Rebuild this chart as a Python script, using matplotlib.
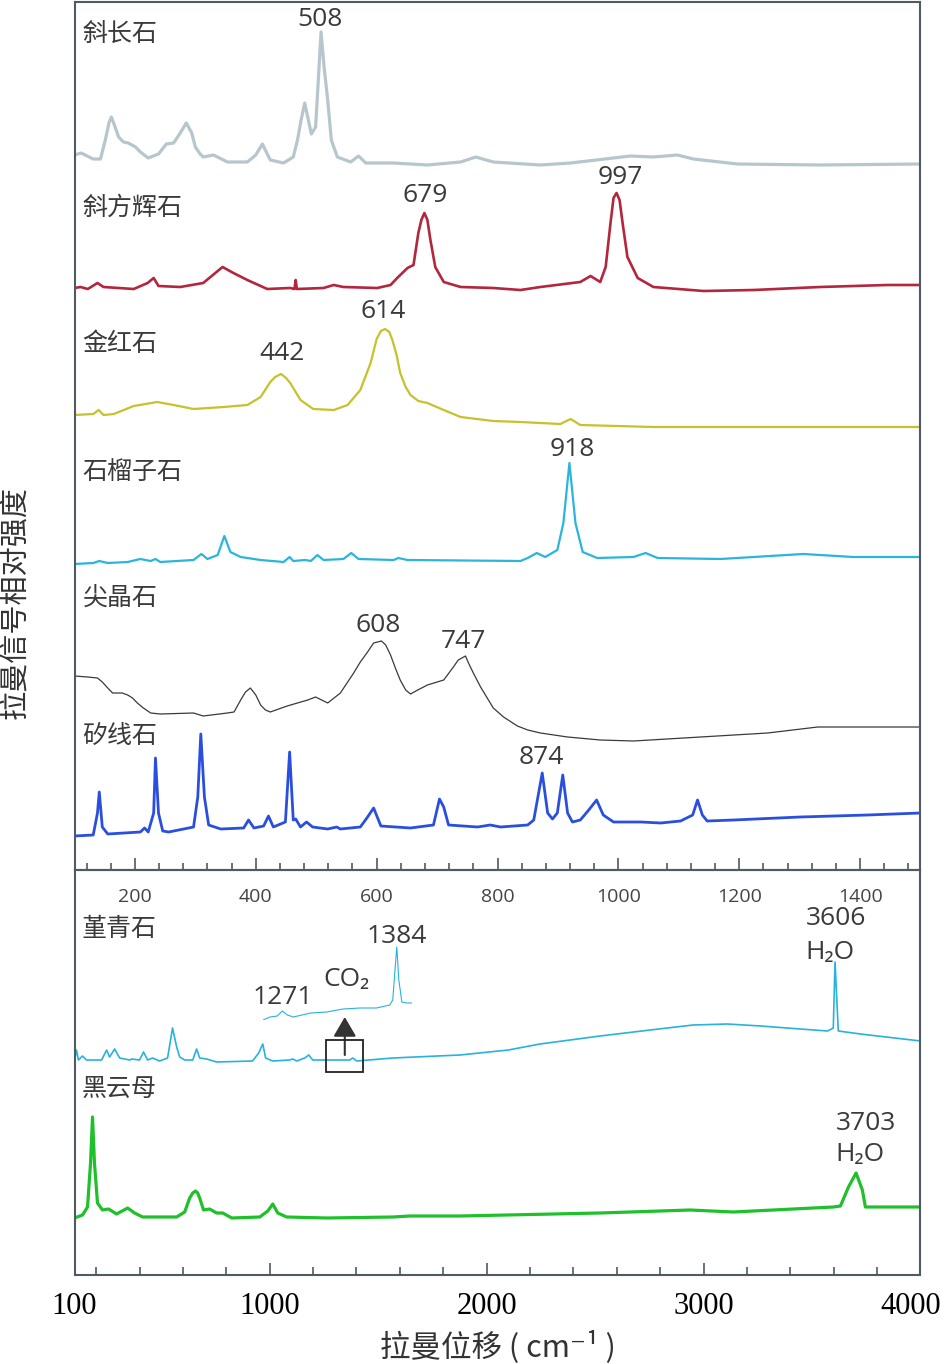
import matplotlib
matplotlib.use('Agg')
import matplotlib.pyplot as plt
from matplotlib.patches import Rectangle
from matplotlib.ticker import FixedLocator, FixedFormatter

# ---------------- data (wavenumber cm-1, relative intensity) ----------------
# top panel minerals
top_names = ['斜长石', '斜方辉石', '金红石', '石榴子石', '尖晶石', '矽线石']
top_offsets = [705, 580, 443, 308, 130, 34]
top_colors = ['#b7c6cd', '#b3263e', '#c5c22c', '#2bb5dc', '#3a3a3a', '#2a4fe0']
top_widths = [2.3, 1.9, 1.6, 1.6, 0.9, 2.0]
top_name_y = [836, 662, 526, 398, 272, 134]

plag_x = [100, 111, 131, 143, 151, 157, 161, 166, 173, 181, 189, 201, 209, 222, 239, 252, 264, 275, 285, 294,
          300, 308, 313, 330, 353, 386, 400, 411, 419, 424, 446, 462, 469, 475, 481, 487, 492, 499, 503, 508,
          513, 519, 525, 535, 557, 570, 582, 628, 684, 739, 764, 793, 871, 921, 1020, 1058, 1098, 1124, 1197,
          1334, 1500]
plag_y = [10, 12, 6, 6, 25, 42, 48, 40, 28, 23, 22, 18, 13, 7, 11, 21, 22, 32, 42, 32,
          18, 11, 8, 10, 3, 3, 10, 21, 11, 5, 2, 8, 25, 45, 62, 45, 31, 38, 80, 133,
          98, 65, 25, 8, 3, 9, 2, 2, 0, 3, 8, 3, 0, 2, 9, 8, 10, 6, 1,
          0, 1]

opx_x = [100, 110, 122, 138, 148, 198, 221, 231, 239, 275, 313, 333, 345, 363, 386, 419, 457, 464, 466, 468,
         512, 529, 545, 601, 623, 634, 651, 661, 669, 674, 679, 684, 689, 697, 711, 739, 793, 838, 871, 937,
         954, 970, 979, 987, 992, 997, 1002, 1007, 1015, 1032, 1058, 1141, 1224, 1334, 1445, 1500]
opx_y = [2, 3, 1, 7, 3, 1, 7, 12, 4, 3, 7, 17, 23, 17, 10, 1, 2, 1, 10, 1,
         2, 5, 3, 2, 5, 12, 22, 25, 57, 70, 77, 70, 50, 23, 8, 3, 2, 0, 3, 8,
         14, 8, 23, 67, 92, 97, 90, 67, 33, 12, 3, -1, 0, 3, 5, 5]

rt_x = [100, 131, 140, 148, 165, 198, 237, 264, 297, 347, 386, 408, 424, 432, 442, 450, 457, 466, 474, 495,
        529, 552, 573, 590, 600, 607, 614, 621, 626, 633, 639, 648, 656, 669, 684, 711, 739, 793, 838, 904,
        921, 937, 1058, 1500]
rt_y = [12, 13, 17, 12, 13, 21, 25, 22, 18, 20, 22, 30, 45, 50, 53, 49, 44, 35, 27, 18,
        17, 22, 37, 64, 88, 96, 98, 95, 87, 72, 54, 40, 32, 26, 24, 17, 10, 6, 5, 3,
        8, 2, 0, 0]

grt_x = [100, 131, 141, 155, 188, 209, 226, 234, 242, 297, 310, 320, 337, 348, 358, 375, 408, 446, 456, 462,
         482, 491, 502, 512, 545, 558, 570, 628, 636, 651, 838, 850, 865, 879, 899, 909, 919, 929, 941, 965,
         1025, 1045, 1065, 1169, 1306, 1389, 1500]
grt_y = [-2, -1, 1, -1, 0, 3, 1, 3, 0, 2, 8, 3, 7, 26, 10, 5, 2, 0, 5, 1,
         2, 1, 7, 2, 3, 9, 3, 2, 4, 2, 1, 4, 9, 5, 12, 39, 99, 39, 10, 4,
         5, 9, 4, 3, 8, 5, 5]

spl_x = [100, 122, 138, 146, 155, 163, 179, 188, 196, 204, 214, 226, 242, 297, 313, 353, 364, 375, 383, 391,
         400, 408, 416, 424, 452, 486, 499, 519, 540, 562, 573, 585, 595, 608, 615, 623, 631, 639, 648, 656,
         668, 684, 711, 727, 735, 747, 752, 760, 772, 783, 793, 810, 833, 850, 871, 916, 970, 1025, 1136, 1247,
         1330, 1412, 1500]
spl_y = [64, 63, 62, 58, 52, 47, 47, 45, 42, 37, 32, 27, 26, 27, 24, 27, 28, 40, 48, 52,
         45, 35, 30, 28, 34, 40, 43, 37, 47, 67, 78, 88, 97, 99, 95, 85, 72, 60, 50, 46,
         50, 55, 60, 73, 80, 84, 77, 67, 53, 42, 32, 23, 14, 10, 7, 3, 0, -1, 3, 7,
         13, 13, 13]

sil_x = [100, 131, 138, 141, 146, 155, 209, 216, 222, 231, 234, 239, 246, 256, 297, 304, 309, 315, 322, 342,
         380, 388, 397, 413, 421, 429, 449, 456, 462, 466, 474, 484, 494, 519, 534, 540, 573, 585, 595, 607,
         656, 694, 704, 711, 719, 767, 788, 805, 850, 860, 874, 883, 891, 899, 908, 916, 924, 937, 951, 964,
         975, 992, 1037, 1070, 1103, 1123, 1131, 1139, 1147, 1191, 1301, 1412, 1500]
sil_y = [0, 1, 23, 44, 9, 2, 4, 8, 4, 23, 78, 23, 5, 4, 9, 39, 102, 39, 11, 7,
         8, 16, 8, 10, 20, 9, 14, 84, 16, 17, 9, 14, 9, 7, 9, 7, 9, 19, 28, 10,
         8, 11, 37, 29, 11, 9, 11, 9, 11, 16, 63, 23, 17, 23, 61, 23, 14, 16, 26, 36,
         21, 14, 14, 13, 15, 21, 36, 21, 15, 16, 19, 21, 23]

top_x = [plag_x, opx_x, rt_x, grt_x, spl_x, sil_x]
top_y = [plag_y, opx_y, rt_y, grt_y, spl_y, sil_y]

# peak labels of the top panel (text, x, y)
top_peak_text = ['508', '679', '997', '442', '614', '918', '608', '747', '874']
top_peak_x = [507, 681, 1004, 443, 611, 924, 603, 744, 873]
top_peak_y = [850, 674, 692, 516, 558, 420, 244, 229, 112]

top_ticks = [200, 400, 600, 800, 1000, 1200, 1400]

# bottom panel minerals
bot_names = ['堇青石', '黑云母']
bot_offsets = [214, 57]
bot_colors = ['#27b2e0', '#1fc02c']
bot_widths = [1.2, 2.3]
bot_name_y = [346, 186]

crd_x = [100, 109, 118, 137, 155, 225, 248, 262, 285, 308, 354, 363, 400, 418, 437, 460, 492, 529, 552, 571,
         585, 608, 645, 663, 677, 709, 755, 921, 949, 968, 981, 1014, 1092, 1106, 1125, 1161, 1180, 1198, 1369,
         1383, 1401, 1568, 1877, 2100, 2246, 2523, 2754, 2952, 3109, 3263, 3446, 3571, 3598, 3606, 3621, 3723,
         4000]
crd_y = [1, 11, 1, 5, 1, 1, 11, 4, 12, 3, 1, 2, 1, 9, 1, 3, 0, 3, 33, 14,
         4, 1, 1, 12, 3, 2, -1, 0, 8, 17, 3, 0, 1, 2, 0, 3, 6, 1, 1,
         3, 0, 3, 6, 11, 17, 25, 31, 36, 37, 35, 32, 30, 33, 99, 30, 27,
         20]

bt_x = [100, 137, 160, 174, 183, 192, 206, 229, 257, 294, 345, 377, 414, 571, 608, 631, 645, 658, 668, 677,
        695, 723, 755, 783, 825, 954, 991, 1014, 1037, 1078, 1263, 1568, 1646, 1877, 2523, 2938, 3137, 3598,
        3631, 3668, 3703, 3732, 3746, 4000]
bt_y = [0, 3, 11, 55, 101, 55, 15, 8, 9, 4, 10, 5, 1, 1, 6, 20, 25, 27, 25, 20,
        8, 9, 5, 5, 0, 1, 7, 14, 5, 1, 0, 1, 2, 2, 5, 8, 6, 11,
        12, 31, 45, 28, 11, 11]

bot_x = [crd_x, bt_x]
bot_y = [crd_y, bt_y]

# magnified CO2 region of cordierite
co2_x = [1252, 1259, 1266, 1271, 1276, 1282, 1299, 1315, 1331, 1348, 1364, 1377, 1380, 1382, 1384, 1386,
         1389, 1394, 1399]
co2_y = [0, 3, 4, 9, 5, 3, 7, 8, 11, 12, 12, 15, 20, 47, 73, 40, 18, 17, 17]

bot_peak_text = ['1384', '1271', 'CO₂', '3606', 'H₂O', '3703', 'H₂O']
bot_peak_x = [1586, 1060, 1355, 3612, 3584, 3750, 3723]
bot_peak_y = [338, 277, 295, 356, 322, 152, 120]

bot_ticks = [100, 1000, 2000, 3000, 4000]
bot_tick_labels = ['100', '1000', '2000', '3000', '4000']

# ---------------- figure ----------------
plt.rcParams['font.family'] = ['Open Sans', 'Noto Sans CJK SC', 'DejaVu Sans']
TXT = '#3a3a3a'
SPINE = '#4e5b61'
LATIN_CJK = ['Open Sans', 'Noto Sans CJK SC', 'DejaVu Sans']
CJK = ['Noto Sans CJK SC', 'DejaVu Sans']

W, H = 945, 1364
fig = plt.figure(figsize=(W / 100, H / 100), dpi=100)
L, R = 74.5 / W, 920.5 / W
ax_top = fig.add_axes([L, 1 - 870 / H, R - L, 868 / H])
ax_bot = fig.add_axes([L, 1 - 1275 / H, R - L, 405 / H])
ax_top.set_zorder(3)
for ax in (ax_top, ax_bot):
    ax.patch.set_visible(False)
    for s in ax.spines.values():
        s.set_color(SPINE)
        s.set_linewidth(1.5)
    ax.set_yticks([])

# top panel
ax_top.set_xlim(100, 1500)
ax_top.set_ylim(0, 868)
for xs, ys, off, c, lw in zip(top_x, top_y, top_offsets, top_colors, top_widths):
    ax_top.plot(xs, [off + v for v in ys], color=c, lw=lw, solid_joinstyle='round')
for name, yy in zip(top_names, top_name_y):
    ax_top.text(113, yy, name, fontsize=18, color=TXT, family=CJK, ha='left', va='center')
for t, xx, yy in zip(top_peak_text, top_peak_x, top_peak_y):
    ax_top.text(xx, yy, t, fontsize=19, color=TXT, family=LATIN_CJK, ha='center', va='center')

ax_top.xaxis.set_major_locator(FixedLocator(top_ticks))
ax_top.xaxis.set_minor_locator(FixedLocator([v for v in range(120, 1500, 40) if v % 200]))
ax_top.tick_params(axis='x', which='both', direction='in', color=SPINE, width=1.2,
                   labelsize=14, labelcolor='#444444', pad=13)
ax_top.tick_params(axis='x', which='major', length=9)
ax_top.tick_params(axis='x', which='minor', length=5)

# bottom panel
ax_bot.set_xlim(100, 4000)
ax_bot.set_ylim(0, 405)
for xs, ys, off, c, lw in zip(bot_x, bot_y, bot_offsets, bot_colors, bot_widths):
    ax_bot.plot(xs, [off + v for v in ys], color=c, lw=lw, solid_joinstyle='round')
for name, yy in zip(bot_names, bot_name_y):
    ax_bot.text(132, yy, name, fontsize=18, color=TXT, family=CJK, ha='left', va='center')
for t, xx, yy in zip(bot_peak_text, bot_peak_x, bot_peak_y):
    ax_bot.text(xx, yy, t, fontsize=19, color=TXT, family=LATIN_CJK, ha='center', va='center')

# box and arrow pointing to the magnified CO2 region
ax_bot.add_patch(Rectangle((1258, 203), 171, 32, fill=False, ec='#222222', lw=1.3, zorder=4))
ax_bot.annotate('', xy=(1346, 258), xytext=(1346, 220),
                arrowprops=dict(arrowstyle='-|>,head_length=0.6,head_width=0.35', color='#333333',
                                lw=1.5, mutation_scale=20, shrinkA=0, shrinkB=0))

# inset with magnified CO2 spectrum
ins = ax_bot.inset_axes([(263 - 74.5) / 846, (1275 - 1020) / 405, 149 / 846, 120 / 405])
ins.plot(co2_x, co2_y, color='#27b2e0', lw=0.8)
ins.set_xlim(1252, 1399)
ins.set_ylim(0, 120)
ins.axis('off')
ins.patch.set_visible(False)

ax_bot.xaxis.set_major_locator(FixedLocator(bot_ticks))
ax_bot.xaxis.set_major_formatter(FixedFormatter(bot_tick_labels[:-1] + ['']))
ax_bot.xaxis.set_minor_locator(FixedLocator([v for v in range(200, 4000, 200) if v % 1000]))
ax_bot.tick_params(axis='x', which='both', direction='in', color=SPINE, width=1.2,
                   labelsize=22, labelcolor='black', pad=12)
ax_bot.tick_params(axis='x', which='major', length=9)
ax_bot.tick_params(axis='x', which='minor', length=5.5)
for lbl in ax_bot.get_xticklabels():
    lbl.set_fontfamily('Liberation Serif')
# last tick label, nudged left so it stays inside the picture
ax_bot.annotate(bot_tick_labels[-1], xy=(bot_ticks[-1], 0), xycoords=('data', 'axes fraction'),
                xytext=(-7, -12), textcoords='offset points', ha='center', va='top',
                fontsize=22, family='Liberation Serif', color='black')

fig.text(15 / W, 1 - 602 / H, '拉曼信号相对强度', rotation=90, ha='center', va='center',
         fontsize=21, family=CJK, color='#333333')
fig.text(498 / W, 1 - 1347 / H, '拉曼位移 ( cm⁻¹ )', ha='center', va='center',
         fontsize=22, family=CJK, color='#333333')

fig.savefig('out.png', dpi=100, facecolor='white')
